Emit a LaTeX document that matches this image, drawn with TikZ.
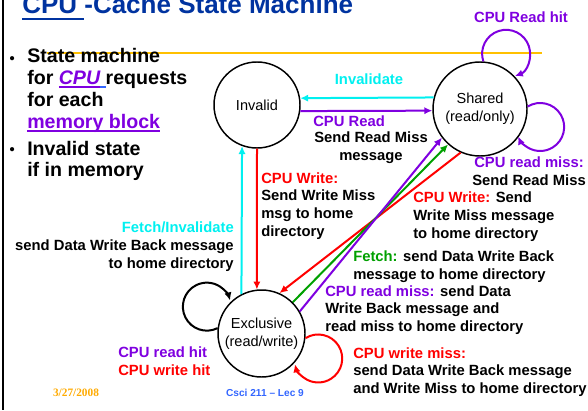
\documentclass[tikz,border=0pt]{standalone}
\usepackage{fontspec}
\setmainfont{Liberation Sans}
\newfontfamily\timesfont{Liberation Serif}
\usetikzlibrary{arrows.meta}
\definecolor{cpurple}{HTML}{7F00E0}
\definecolor{ccyan}{HTML}{00F0F0}
\definecolor{cred}{HTML}{FF0000}
\definecolor{cgreen}{HTML}{00A000}
\definecolor{ctitle}{HTML}{0033A0}
\definecolor{clink}{HTML}{3366FF}
\definecolor{corange}{HTML}{FFC000}
\definecolor{cdate}{HTML}{FFAA00}
% coloured underline: colour, offset below baseline, text
\newcommand{\ulc}[3]{\setbox0=\hbox{#3}\rlap{\color{#1}\rule[-#2]{\wd0}{0.09em}}\box0}

\begin{document}
\begin{tikzpicture}[x=0.75pt,y=-0.75pt,
  state/.style={circle,draw,line width=1.1pt,inner sep=0pt,align=center,
    font=\fontsize{10.9}{13.5}\selectfont},
  lbl/.style={inner sep=0pt,font=\bfseries\fontsize{11.1}{13.3}\selectfont},
  bullettext/.style={inner sep=0pt,anchor=west,align=left,
    font=\bfseries\fontsize{14.7}{16.3}\selectfont},
  bulletmark/.style={inner sep=0pt,font=\bfseries\fontsize{11}{12}\selectfont},
  trans/.style={line width=1.5pt,-{Latex[length=6pt,width=5.5pt]}}]
  \useasboundingbox (0,0) rectangle (588,410);
  % slide frame
  \draw[line width=2pt] (3,0) -- (3,410);
  \draw[corange,line width=2pt] (47,53) -- (542,53);
  % title
  \node[anchor=base west,inner sep=0pt,ctitle,font=\bfseries\fontsize{19.5}{22}\selectfont]
    (title) at (22,14) {\ulc{ctitle}{0.25em}{CPU\ }-Cache State Machine};
  % bullets
  \node[bulletmark] (bula) at (12.2,60) {\textbullet};
  \node[bullettext] (txta) at (27,90.5) {State machine\\for \ulc{cpurple}{0.18em}{\textcolor{cpurple}{\itshape CPU}}\ulc{clink}{0.18em}{\ }requests\\for each\\\ulc{cpurple}{0.18em}{\textcolor{cpurple}{memory block}}};
  \node[bulletmark] (bulb) at (12.2,151) {\textbullet};
  \node[bullettext] (txtb) at (27,161) {Invalid state\\if in memory};
  % states
  \node[state,minimum size=64.5pt] (inv) at (257,105) {Invalid};
  \node[state,minimum size=70.5pt] (sh) at (480,109) {Shared\\(read/only)};
  \node[state,minimum size=65.25pt] (ex) at (261.5,333.5) {Exclusive\\(read/write)};
  % transitions
  \draw[trans,ccyan] (sh.166) -- (inv.9);
  \draw[trans,cpurple] (inv.-8) -- (sh.182);
  \draw[trans,cred] (inv.-90) -- (ex.96);
  \draw[trans,ccyan] (ex.117) -- (inv.-110);
  \draw[trans,cred] (sh.246) -- (ex.66);
  \draw[trans,cgreen] (ex.45) -- (sh.228);
  \draw[trans,cpurple] (ex.30) -- (sh.217);
  % self loops
  \draw[trans,cpurple] (sh.86) arc[start angle=161.6,end angle=428.6,radius=24];
  \draw[trans,cpurple] (sh.3) arc[start angle=238.6,end angle=516.5,radius=24];
  \draw[trans] (ex.173) arc[start angle=63.4,end angle=345,radius=24];
  \draw[trans,cred] (ex.-6) arc[start angle=238,end angle=526,radius=24];
  % labels
  \node[lbl,ccyan] (linv) at (369,79) {Invalidate};
  \node[lbl,cpurple,anchor=west] (lrd) at (313,121) {CPU Read};
  \node[lbl,align=center] (lrdmsg) at (371,148) {Send Read Miss\\message};
  \node[lbl,cpurple] (lrh) at (521,17) {CPU Read hit};
  \node[lbl,align=center] (lrm) at (529,171) {\textcolor{cpurple}{CPU read miss:}\\Send Read Miss};
  \node[lbl,anchor=west,align=left] (lwr) at (261,206) {\textcolor{cred}{CPU Write:}\\Send Write Miss\\msg to home\\directory};
  \node[lbl,anchor=east,align=right] (lfi) at (234,246.5) {\textcolor{ccyan}{Fetch/Invalidate}\\send Data Write Back message\\to home directory};
  \node[lbl,anchor=west,align=left] (lwrb) at (413,216.5) {\textcolor{cred}{CPU Write:} Send\\Write Miss message\\to home directory};
  \node[lbl,anchor=west,align=left] (lfe) at (353,267) {\textcolor{cgreen}{Fetch:} send Data Write Back\\message to home directory};
  \node[lbl,anchor=west,align=left] (lrmb) at (325,310) {\textcolor{cpurple}{CPU read miss:} send Data\\Write Back message and\\read miss to home directory};
  \node[lbl,anchor=west,align=left] (lhit) at (118,361) {\textcolor{cpurple}{CPU read hit}\\\textcolor{cred}{CPU write hit}};
  \node[lbl,anchor=west,align=left] (lwm) at (353,372) {\textcolor{cred}{CPU write miss:}\\send Data Write Back message\\and Write Miss to home directory};
  % footer
  \node[inner sep=0pt,cdate,font=\timesfont\bfseries\fontsize{8.5}{10}\selectfont] (date) at (76,393) {3/27/2008};
  \node[inner sep=0pt,clink,font=\bfseries\fontsize{7.6}{9}\selectfont] (lec) at (265,393) {Csci 211 – Lec 9};
\end{tikzpicture}
\end{document}
